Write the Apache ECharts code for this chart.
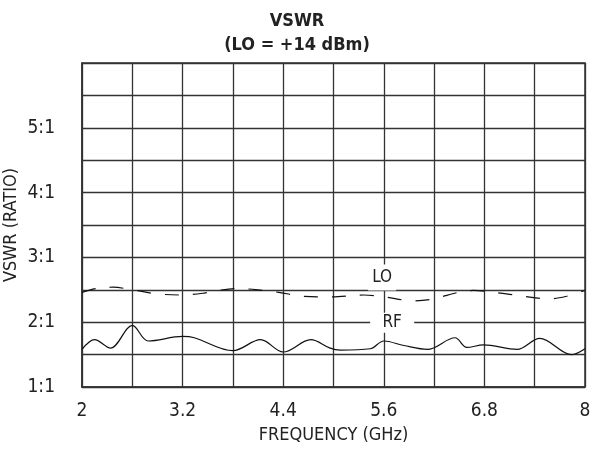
<!DOCTYPE html>
<html>
<head>
<meta charset="utf-8">
<script src="https://cdn.jsdelivr.net/npm/echarts@6/dist/echarts.min.js"></script>
<style>
  html, body { margin: 0; padding: 0; background: #fff; }
  #chart { width: 592px; height: 450px; }
</style>
</head>
<body>
<div id="chart"></div>
<script>
// VSWR vs frequency, LO = +14 dBm. RF solid, LO dashed.
const FONT = '"DejaVu Sans Condensed", "Liberation Sans Narrow", sans-serif';

const xTickLabels = ['2', '3.2', '4.4', '5.6', '6.8', '8'];
const yTickLabels = ['1:1', '2:1', '3:1', '4:1', '5:1'];

const rfFreq = [2.0, 2.15, 2.34, 2.60, 2.79, 3.2, 3.34, 3.80, 4.13, 4.40, 4.73, 4.96, 5.08, 5.44, 5.60, 5.84, 6.12, 6.45, 6.59, 6.79, 7.19, 7.46, 7.84, 8.0];
const rfVswr = [1.58, 1.73, 1.60, 1.95, 1.71, 1.78, 1.76, 1.56, 1.73, 1.54, 1.73, 1.60, 1.57, 1.59, 1.71, 1.64, 1.58, 1.76, 1.61, 1.65, 1.58, 1.75, 1.50, 1.59];

const loFreq = [2.0, 2.17, 2.37, 2.60, 2.88, 3.18, 3.46, 3.62, 3.85, 4.17, 4.35, 4.65, 4.96, 5.36, 5.60, 5.96, 6.15, 6.67, 6.79, 7.10, 7.58, 7.78, 8.0];
const loVswr = [2.46, 2.52, 2.54, 2.50, 2.44, 2.42, 2.45, 2.49, 2.52, 2.49, 2.46, 2.40, 2.39, 2.42, 2.39, 2.33, 2.35, 2.49, 2.48, 2.43, 2.36, 2.40, 2.49];

// curve tags, in data coords
const loTag = { name: 'LO', at: [5.58, 2.69] };
const rfTag = { name: 'RF', at: [5.70, 1.99] };

const zip = (xs, ys) => xs.map((x, i) => [x, ys[i]]);

const chart = echarts.init(document.getElementById('chart'));
const gridColor = '#333';

function tagPoint(tag, size) {
  return {
    symbol: 'rect',
    symbolSize: size,
    itemStyle: { color: '#fff' },
    label: { show: true, position: 'inside', formatter: tag.name, color: '#222', fontFamily: FONT, fontSize: 17 },
    data: [{ coord: tag.at }],
  };
}

chart.setOption({
  animation: false,
  title: {
    text: 'VSWR\n(LO = +14 dBm)',
    left: 292, top: 4, textAlign: 'center',
    textStyle: { fontFamily: FONT, fontSize: 18, fontWeight: 'bold', color: '#222', lineHeight: 24 },
  },
  grid: { left: 82, right: 7, top: 63, bottom: 63, show: true, borderColor: gridColor, borderWidth: 1.5, outerBoundsMode: 'none' },
  xAxis: {
    type: 'value', min: 2, max: 8, interval: 0.6,
    name: 'FREQUENCY (GHz)', nameLocation: 'middle', nameGap: 39, nameMoveOverlap: false,
    nameTextStyle: { fontFamily: FONT, fontSize: 18, color: '#222' },
    axisLine: { lineStyle: { color: gridColor, width: 1.5 } },
    axisTick: { show: false },
    splitLine: { lineStyle: { color: gridColor, width: 1.3 } },
    axisLabel: {
      margin: 15, fontFamily: FONT, fontSize: 19, color: '#222', showMinLabel: true, showMaxLabel: true,
      formatter: (v) => {
        const i = Math.round((v - 2) / 0.6);
        return i % 2 === 0 ? (xTickLabels[i / 2] || '') : '';
      },
    },
  },
  yAxis: {
    type: 'value', min: 1, max: 6, interval: 0.5,
    name: 'VSWR (RATIO)', nameLocation: 'middle', nameGap: 62, nameMoveOverlap: false,
    nameTextStyle: { fontFamily: FONT, fontSize: 18, color: '#222' },
    axisLine: { show: true, lineStyle: { color: gridColor, width: 1.5 } },
    axisTick: { show: false },
    splitLine: { lineStyle: { color: gridColor, width: 1.3 } },
    axisLabel: {
      margin: 27, fontFamily: FONT, fontSize: 19, color: '#222',
      formatter: (v) => {
        const i = Math.round(v * 2);
        return i % 2 === 0 ? (yTickLabels[i / 2 - 1] || '') : '';
      },
    },
  },
  series: [
    {
      name: 'RF', type: 'line', data: zip(rfFreq, rfVswr), smooth: 0.35, showSymbol: false,
      lineStyle: { color: '#111', width: 1.2 },
      markPoint: tagPoint(rfTag, [44, 20]),
    },
    {
      name: 'LO', type: 'line', data: zip(loFreq, loVswr), smooth: 0.35, showSymbol: false,
      lineStyle: { color: '#111', width: 1.2, type: [14, 14] },
      markPoint: tagPoint(loTag, [28, 26]),
    },
  ],
});
</script>
</body>
</html>
